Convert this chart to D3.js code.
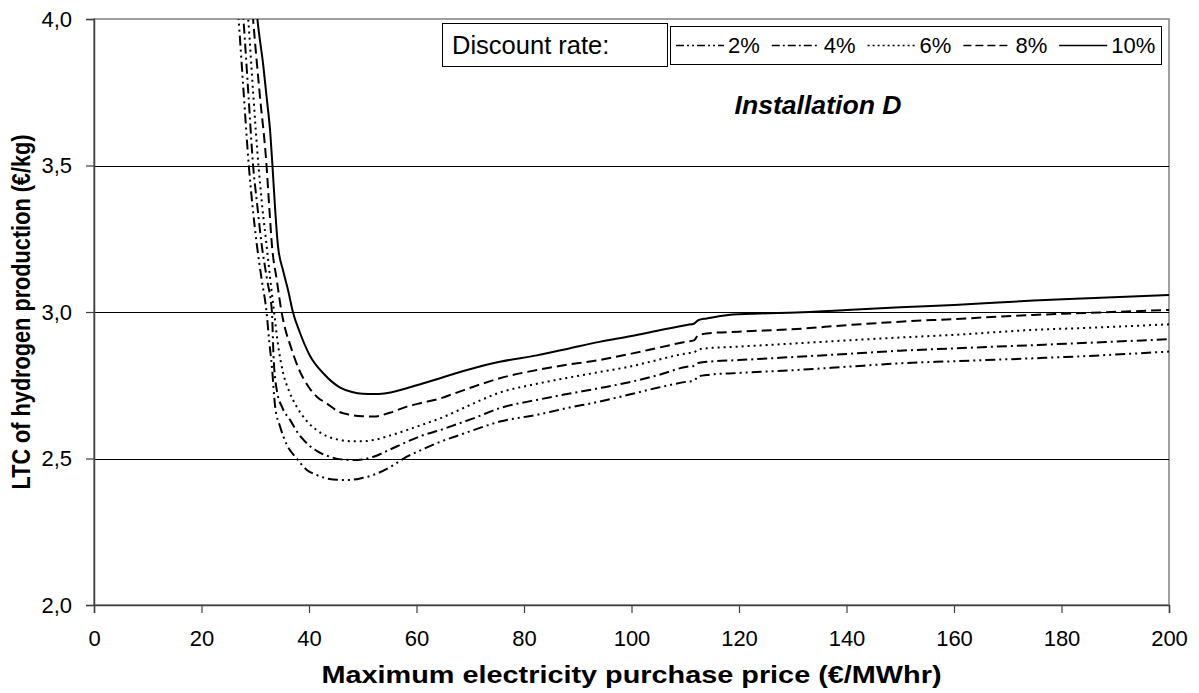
<!DOCTYPE html>
<html><head><meta charset="utf-8">
<script src="https://cdn.jsdelivr.net/npm/d3@7"></script>
<style>body{margin:0;background:#fff}svg{display:block}text{font-family:"Liberation Sans",Arial,sans-serif}</style>
</head><body>
<svg id="c" width="1199" height="693"></svg>
<script>
const rates = ["2%","4%","6%","8%","10%"];
const xTicks = [0,20,40,60,80,100,120,140,160,180,200];
const yTicks = [2.0,2.5,3.0,3.5,4.0];

const x2 = [26.4,26.9,27.8,28.8,29.5,30.3,31.2,32.1,32.6,33.1,33.7,34.6,35.8,37.7,39.6,41.5,43.3,45.8,47.6,50,52,55,58.2,61,64.4,67.5,70.6,75.5,82.4,88,94,100,105,110.3,111.6,112.4,114,120,130.7,140,150,160,174.8,185,200];
const y2 = [4.12,4.0,3.76,3.5,3.36,3.229,3.11,3.0,2.90,2.813,2.677,2.61,2.55,2.50,2.461,2.443,2.432,2.427,2.427,2.434,2.444,2.47,2.506,2.53,2.557,2.577,2.597,2.626,2.649,2.672,2.694,2.72,2.742,2.762,2.765,2.780,2.785,2.792,2.802,2.813,2.825,2.832,2.842,2.850,2.865];

const x4 = [27.3,27.8,28.7,29.6,30.4,31.2,32.2,33.1,33.4,34.0,35.0,36.5,38.0,39.6,41.5,43.9,46,48.2,50,52,55,58.2,61,64.4,67.5,70.6,75.5,82.4,88,94,100,105,110.3,111.6,112.4,114,120,130.7,140,150,160,174.8,185,200];
const y4 = [4.12,4.0,3.75,3.5,3.36,3.229,3.11,3.0,2.85,2.734,2.675,2.631,2.585,2.552,2.525,2.506,2.497,2.495,2.497,2.506,2.53,2.557,2.578,2.597,2.617,2.637,2.672,2.700,2.72,2.740,2.762,2.785,2.813,2.816,2.826,2.830,2.836,2.847,2.857,2.868,2.876,2.887,2.895,2.907];

const x6 = [28.2,28.7,29.6,30.6,31.3,32.1,32.8,33.5,34.3,35.2,36.3,37.7,39.5,41.4,43.5,45.8,48,50,52,55,58.2,61,64.4,67.5,70.6,75.5,82.4,88,94,100,105,110.3,111.6,112.4,114,120,130.7,140,150,160,174.8,185,200];
const y6 = [4.12,4.0,3.75,3.5,3.36,3.229,3.11,3.0,2.88,2.791,2.73,2.677,2.63,2.597,2.575,2.563,2.559,2.559,2.563,2.578,2.597,2.615,2.637,2.662,2.688,2.725,2.755,2.775,2.795,2.815,2.837,2.859,2.862,2.872,2.876,2.882,2.893,2.903,2.913,2.922,2.939,2.946,2.958];

const x8 = [29.1,29.6,30.8,32.1,32.6,33.1,34.0,34.9,35.6,36.4,38.0,39.9,41.5,43.3,45.5,47.6,50,52,55,58.2,61,64.4,67.5,70.6,75.5,82.4,88,94,100,105,110.3,111.6,112.4,114,120,130.7,140,150,160,174.8,185,200];
const y8 = [4.12,4.0,3.75,3.5,3.36,3.229,3.11,3.0,2.94,2.893,2.81,2.745,2.71,2.688,2.66,2.649,2.644,2.643,2.656,2.677,2.69,2.705,2.725,2.745,2.774,2.802,2.82,2.836,2.858,2.878,2.899,2.903,2.920,2.927,2.933,2.942,2.955,2.967,2.976,2.990,2.997,3.007];

const x10 = [30.0,30.4,31.5,32.2,32.8,33.2,33.6,34.2,35.2,36.1,37.0,38.3,40.2,42.7,45.8,48,50,52,54,58.2,61,64.4,67.5,70.6,75.5,82.4,88,94,100,105,110.3,111.6,112.4,114,118,124,130.7,140,150,160,174.8,185,200];
const y10 = [4.08,4.0,3.84,3.72,3.61,3.5,3.38,3.23,3.14,3.075,3.0,2.93,2.85,2.79,2.742,2.727,2.721,2.72,2.722,2.740,2.755,2.774,2.792,2.808,2.830,2.852,2.874,2.898,2.918,2.937,2.956,2.960,2.972,2.978,2.99,2.995,2.998,3.007,3.016,3.024,3.039,3.047,3.058];

const seriesX = [x2,x4,x6,x8,x10];
const seriesY = [y2,y4,y6,y8,y10];
const dashes = ["10,4,2,4,2,4","10,4,2,4","2,4","10,5",null];
const legendDashes = ["8,3,2,3,2,3","8,3,2,3","2,3","8,4",null];

const svg = d3.select("#c");
const m = {l:94,t:19,r:1169,b:605};
const x = d3.scaleLinear().domain([0,200]).range([m.l,m.r]);
const y = d3.scaleLinear().domain([2,4]).range([m.b,m.t]);

svg.append("defs").append("clipPath").attr("id","clip").append("rect")
  .attr("x",m.l).attr("y",m.t).attr("width",m.r-m.l).attr("height",m.b-m.t);

svg.append("rect").attr("x",m.l).attr("y",m.t).attr("width",m.r-m.l).attr("height",m.b-m.t)
  .attr("fill","none").attr("stroke","#808080").attr("stroke-width",1.5);

svg.append("g").selectAll("line").data(yTicks.filter(d=>d>2&&d<4)).join("line")
  .attr("x1",m.l).attr("x2",m.r).attr("y1",d=>Math.round(y(d))+0.5).attr("y2",d=>Math.round(y(d))+0.5)
  .attr("stroke","#000").attr("stroke-width",1);

const xAxis = d3.axisBottom(x).tickValues(xTicks).tickSize(8).tickPadding(17).tickFormat(d3.format("d"));
const gx = svg.append("g").attr("transform",`translate(0,${m.b})`).call(xAxis);
const yAxis = d3.axisLeft(y).tickValues(yTicks).tickSize(8).tickPadding(14).tickFormat(d=>d3.format(".1f")(d).replace(".",","));
const gy = svg.append("g").attr("transform",`translate(${m.l},0)`).call(yAxis);
[gx,gy].forEach(g=>{
  g.select(".domain").attr("stroke","#404040").attr("stroke-width",1.5);
  g.selectAll(".tick line").attr("stroke","#404040").attr("stroke-width",1.2);
  g.selectAll("text").attr("font-size",22).attr("fill","#000").style("font-family","'Liberation Sans',Arial,sans-serif");
});

const line = d3.line().x(d=>x(d[0])).y(d=>y(d[1])).curve(d3.curveMonotoneX);
const gl = svg.append("g").attr("clip-path","url(#clip)");
seriesX.forEach((xs,i)=>{
  const pts = xs.map((v,j)=>[v,seriesY[i][j]]);
  gl.append("path").datum(pts).attr("d",line).attr("fill","none")
    .attr("stroke","#000").attr("stroke-width",2)
    .attr("stroke-dasharray",dashes[i]);
});

svg.append("text").attr("x",(m.l+m.r)/2).attr("y",683).attr("text-anchor","middle")
  .attr("font-size",24).attr("font-weight","bold")
  .attr("textLength",620).attr("lengthAdjust","spacingAndGlyphs")
  .text("Maximum electricity purchase price (€/MWhr)");
svg.append("text").attr("transform",`translate(30,${(m.t+m.b)/2}) rotate(-90)`).attr("text-anchor","middle")
  .attr("font-size",26).attr("font-weight","bold")
  .attr("textLength",355).attr("lengthAdjust","spacingAndGlyphs")
  .text("LTC of hydrogen production (€/kg)");

svg.append("text").attr("x",818).attr("y",114).attr("text-anchor","middle")
  .attr("font-size",25).attr("font-weight","bold").attr("font-style","italic")
  .attr("textLength",167).attr("lengthAdjust","spacingAndGlyphs").text("Installation D");

svg.append("rect").attr("x",442.5).attr("y",23.5).attr("width",225).attr("height",43)
  .attr("fill","#fff").attr("stroke","#000").attr("stroke-width",1);
svg.append("text").attr("x",452).attr("y",54).attr("font-size",25.5).text("Discount rate:");
const lg = svg.append("g");
lg.append("rect").attr("x",670.5).attr("y",26.5).attr("width",491).attr("height",38)
  .attr("fill","#fff").attr("stroke","#000").attr("stroke-width",1);
let cx = 676;
rates.forEach((r,i)=>{
  lg.append("line").attr("x1",cx).attr("x2",cx+48).attr("y1",45.5).attr("y2",45.5)
    .attr("stroke","#000").attr("stroke-width",1.5).attr("stroke-dasharray",legendDashes[i]);
  const t = lg.append("text").attr("x",cx+52).attr("y",53).attr("font-size",22).text(r);
  cx += 52 + t.node().getComputedTextLength() + 12;
});
</script>
</body></html>
